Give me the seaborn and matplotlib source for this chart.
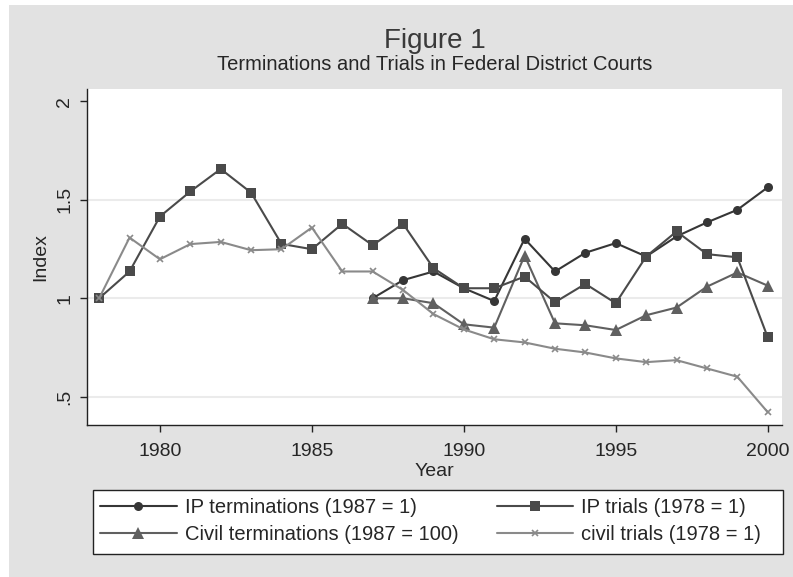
import matplotlib
matplotlib.use("Agg")
import matplotlib.pyplot as plt
from matplotlib.patches import Rectangle
import pandas as pd
import seaborn as sns

# values (index, base year = 1)
years = list(range(1978, 2001))
ip_trials = [1.00, 1.136, 1.415, 1.542, 1.656, 1.536, 1.276, 1.249, 1.378, 1.269,
             1.378, 1.153, 1.051, 1.051, 1.110, 0.980, 1.073, 0.975, 1.212, 1.339,
             1.224, 1.208, 0.802]
civil_trials = [1.00, 1.308, 1.198, 1.275, 1.286, 1.244, 1.249, 1.359, 1.136, 1.136,
                1.042, 0.920, 0.842, 0.792, 0.776, 0.744, 0.725, 0.695, 0.676, 0.686,
                0.644, 0.602, 0.422]
term_years = list(range(1987, 2001))
ip_terminations = [1.00, 1.092, 1.136, 1.051, 0.986, 1.302, 1.136, 1.231, 1.280, 1.212,
                   1.314, 1.385, 1.449, 1.563]
civil_terminations = [1.00, 1.00, 0.975, 0.868, 0.851, 1.217, 0.873, 0.863, 0.839, 0.914,
                      0.953, 1.059, 1.131, 1.064]

y_ticks = [0.5, 1, 1.5, 2]
y_tick_labels = [".5", "1", "1.5", "2"]
x_ticks = [1980, 1985, 1990, 1995, 2000]

sns.set_style("white")
plt.rcParams["font.family"] = ["Liberation Sans", "DejaVu Sans"]

W, H = 793, 577
fig = plt.figure(figsize=(W / 100, H / 100), dpi=100)
fig.patch.set_facecolor("white")
fig.patches.append(Rectangle((9 / W, 0), 1, 1 - 5 / H, transform=fig.transFigure,
                             facecolor="#e2e2e2", edgecolor="none", zorder=-10))

ax = fig.add_axes([87 / W, 1 - 425 / H, 695 / W, 336 / H])
ax.set_facecolor("white")

for g in [0.5, 1, 1.5]:
    ax.axhline(g, color="#ebebeb", lw=1.5, zorder=0)

terms = pd.DataFrame({"year": term_years, "ipt": ip_terminations, "civt": civil_terminations})
trials = pd.DataFrame({"year": years, "ipr": ip_trials, "civr": civil_trials})

series = [
    (terms, "ipt", "#363636", "o", 6.5, "IP terminations (1987 = 1)"),
    (terms, "civt", "#606060", "^", 9, "Civil terminations (1987 = 100)"),
    (trials, "ipr", "#4a4a4a", "s", 7.5, "IP trials (1978 = 1)"),
    (trials, "civr", "#8a8a8a", "x", 4.5, "civil trials (1978 = 1)"),
]
for df, col, c, m, ms, lab in series:
    sns.lineplot(data=df, x="year", y=col, ax=ax, color=c, lw=1.5, marker=m,
                 markersize=ms, markeredgecolor=c, markerfacecolor=c,
                 markeredgewidth=1.2 if m == "x" else 0, label=lab)

ax.set_xlim(1977.6, 2000.47)
ax.set_ylim(0.357, 2.062)
ax.set_xticks(x_ticks)
ax.set_yticks(y_ticks)
ax.set_yticklabels(y_tick_labels, rotation=90, va="center")
ax.tick_params(axis="both", direction="out", length=5, width=1, color="#222222",
               labelsize=14, left=True, bottom=True)
ax.tick_params(axis="x", pad=8)
ax.tick_params(axis="y", pad=5)
for s in ["top", "right"]:
    ax.spines[s].set_visible(False)
for s in ["left", "bottom"]:
    ax.spines[s].set_color("#222222")
    ax.spines[s].set_linewidth(1)

ax.set_xlabel("Year", fontsize=14, labelpad=2)
ax.set_ylabel("Index", fontsize=14, labelpad=5)

fig.text(434.5 / W, 1 - 41 / H, "Figure 1", ha="center", va="center",
         fontsize=20, color="#3a3a3a")
fig.text(434.5 / W, 1 - 64 / H, "Terminations and Trials in Federal District Courts",
         ha="center", va="center", fontsize=14.5)

# legend box drawn as its own frame, entries placed inside it
fig.patches.append(Rectangle((93 / W, 1 - 554 / H), 690 / W, 64 / H, transform=fig.transFigure,
                             facecolor="white", edgecolor="#222222", lw=1, zorder=1))
ax.get_legend().remove()
handles, labels = ax.get_legend_handles_labels()
leg = fig.legend(handles, labels, ncol=2, loc="upper left",
                 bbox_to_anchor=(93 / W, 1 - 491 / H), bbox_transform=fig.transFigure,
                 fontsize=14.5, frameon=False, handlelength=3.8, handletextpad=0.4,
                 labelspacing=0.4, borderpad=0.35, borderaxespad=0, columnspacing=1.9)

plt.savefig("out.png", dpi=100, facecolor=fig.get_facecolor())
plt.close()
